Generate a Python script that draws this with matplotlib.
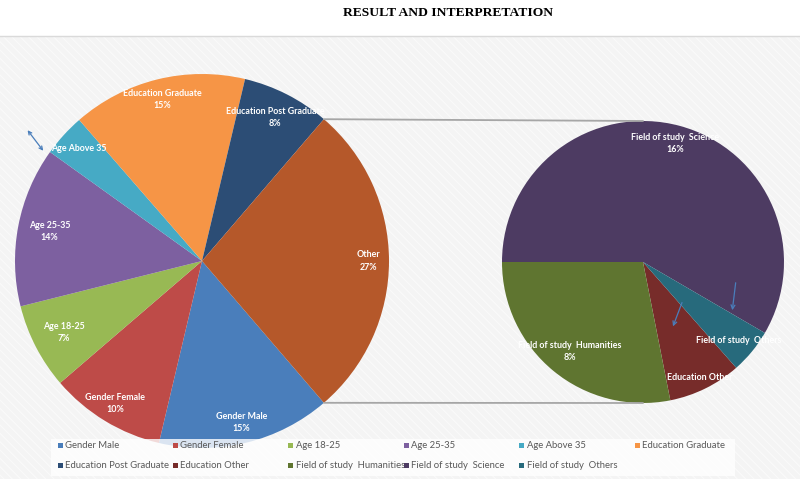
import matplotlib

matplotlib.use("Agg")
import matplotlib.pyplot as plt
import numpy as np
from matplotlib.patches import Rectangle, ConnectionPatch

# --- data (percent of respondents) ------------------------------------------
main_labels = ["Gender Male", "Gender Female", "Age 18-25", "Age 25-35",
               "Age Above 35", "Education Graduate", "Education Post Graduate"]
main_values = [15.0, 10.0, 7.4, 13.8, 3.7, 15.1, 7.6]
main_colors = ["#4A7EBB", "#BE4B48", "#98B954", "#7D60A0", "#46AAC5",
               "#F69546", "#2C4D75"]

other_labels = ["Education Other", "Field of study  Humanities",
                "Field of study  Science", "Field of study  Others"]
other_values = [2.3, 7.7, 16.0, 1.4]
other_colors = ["#772C2A", "#5F7530", "#4D3B62", "#276A7C"]

other_name = "Other"
other_color = "#B5582A"

# labels that Excel could not fit the percentage for
hide_pct = {"Age Above 35", "Education Other", "Field of study  Others"}

# --- layout (pixel units, y up) ---------------------------------------------
W, H = 800, 479
C1, R1 = (202, 218), 187
C2, R2 = (643, 217), 141
FRAME_TOP = 443
main_frac = [0.89, 0.89, 0.83, 0.83, 0.89, 0.89, 0.86, 0.89]
other_frac = [0.91, 0.82, 0.87, 0.88]

LBL_FONT = dict(family=["Lato", "DejaVu Sans"], fontweight="bold",
                fontsize=6.4, color="white", ha="center", va="center",
                linespacing=1.45)

fig = plt.figure(figsize=(8, 4.79), dpi=100)
ax = fig.add_axes([0, 0, 1, 1])

# chart frame with the light diagonal texture
plt.rcParams["hatch.linewidth"] = 0.6
ax.add_patch(Rectangle((0, 0), W, FRAME_TOP, facecolor="#F4F4F4",
                       edgecolor="#FBFBFB", hatch="\\\\\\\\", lw=0, zorder=0))
ax.plot([0, W], [FRAME_TOP, FRAME_TOP], color="#DADADA", lw=1, zorder=1)

total = sum(main_values) + sum(other_values)
vals1 = main_values + [sum(other_values)]
cols1 = main_colors + [other_color]
names1 = main_labels + [other_name]

other_deg = 360 * vals1[-1] / sum(vals1)
w1, _ = ax.pie(vals1, colors=cols1, center=C1, radius=R1,
               startangle=360 - other_deg / 2, counterclock=False,
               wedgeprops=dict(linewidth=0), frame=True)

start2 = 180 + 360 * sum(other_values[:2]) / sum(other_values)
w2, _ = ax.pie(other_values, colors=other_colors, center=C2, radius=R2,
               startangle=start2, counterclock=False,
               wedgeprops=dict(linewidth=0), frame=True)


def label_wedges(wedges, names, values, fracs, center, r):
    pos = []
    for w, name, v, f in zip(wedges, names, values, fracs):
        mid = np.deg2rad((w.theta1 + w.theta2) / 2)
        x = center[0] + f * r * np.cos(mid)
        y = center[1] + f * r * np.sin(mid)
        txt = name if name in hide_pct else f"{name}\n{round(100 * v / total)}%"
        ax.text(x, y, txt, zorder=5, **LBL_FONT)
        pos.append((x, y))
    return pos


pos1 = label_wedges(w1, names1, vals1, main_frac, C1, R1)
pos2 = label_wedges(w2, other_labels, other_values, other_frac, C2, R2)

# connector lines between the "Other" slice and the second pie
ow = w1[-1]
for ang, yend in ((ow.theta2, C2[1] + R2), (ow.theta1, C2[1] - R2)):
    a = np.deg2rad(ang)
    p = (C1[0] + R1 * np.cos(a), C1[1] + R1 * np.sin(a))
    ax.add_artist(ConnectionPatch(xyA=p, xyB=(C2[0], yend), coordsA="data",
                                  coordsB="data", axesA=ax, axesB=ax,
                                  color="#A6A6A6", lw=1.3, zorder=1))

# leader arrows as in the original
arrow = dict(color="#4A7EBB", lw=0.9)
lx, ly = pos1[4]
ax.annotate("", xy=(lx - 53, ly + 21), xytext=(lx - 34, ly - 4),
            arrowprops=dict(arrowstyle="<->", mutation_scale=6, **arrow), zorder=6)
for (sx, sy), (ex, ey) in (((40, -38), (29, -67)), ((93, -18), (89, -51))):
    ax.annotate("", xy=(C2[0] + ex, C2[1] + ey), xytext=(C2[0] + sx, C2[1] + sy),
                arrowprops=dict(arrowstyle="->", mutation_scale=7, **arrow), zorder=6)

# legend: fixed-width grid like Excel's
ax.add_patch(Rectangle((51, 3), 684, 37, facecolor="white", alpha=0.8,
                       lw=0, zorder=7))
leg_names = main_labels + other_labels
leg_colors = main_colors + other_colors
for i, (name, col) in enumerate(zip(leg_names, leg_colors)):
    x = 60 + (i % 6) * 115.4
    y = 34 - (i // 6) * 20
    ax.add_patch(Rectangle((x - 2.5, y - 2.5), 5, 5, facecolor=col, lw=0, zorder=8))
    ax.text(x + 5, y, name, fontsize=6.8, color="#595959", va="center",
            ha="left", family=["Lato", "DejaVu Sans"], zorder=8)

ax.text(448, 466, "RESULT AND INTERPRETATION", ha="center", va="center",
        fontsize=9.7, fontweight="bold", family=["Liberation Serif", "DejaVu Serif"])

ax.set_xlim(0, W)
ax.set_ylim(0, H)
ax.set_aspect("auto")
ax.axis("off")
fig.savefig("out.png", dpi=100)
